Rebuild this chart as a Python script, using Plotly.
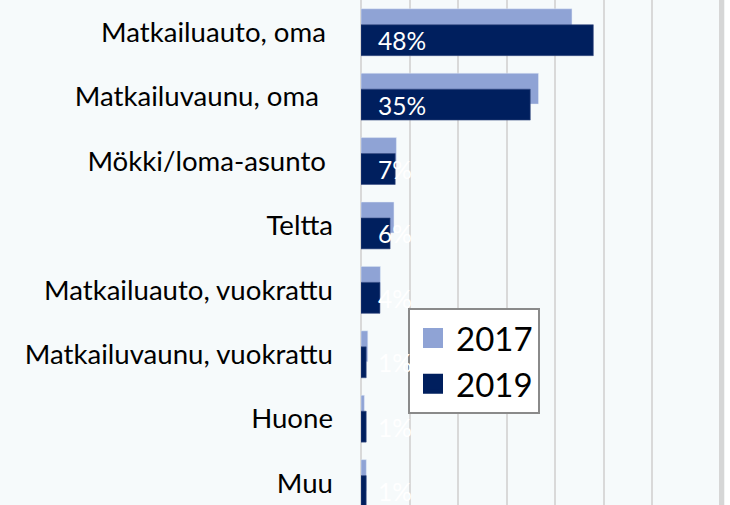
import plotly.graph_objects as go

categories = ["Matkailuauto, oma\u00a0", "Matkailuvaunu, oma\u00a0\u00a0", "Mökki/loma-asunto\u00a0", "Teltta",
              "Matkailuauto, vuokrattu", "Matkailuvaunu, vuokrattu", "Huone", "Muu"]
values_2017 = [43.5, 36.6, 7.3, 6.8, 4.0, 1.4, 0.7, 1.1]
values_2019 = [47.9, 34.9, 7.05, 6.0, 3.9, 1.07, 1.07, 1.07]
labels_2019 = ["48%", "35%", "7%", "6%", "4%", "1%", "1%", "1%"]

C17 = "#8FA3D5"
C19 = "#001F5E"
BG = "#F6FAFB"
FONT = "Lato"

W, H = 730, 505
ML, MR = 361, 11
PW = W - ML - MR

fig = go.Figure()
fig.add_trace(go.Bar(y=categories, x=values_2017, orientation="h", marker_color=C17,
                     width=0.48, offset=-0.364, showlegend=False, hoverinfo="skip"))
fig.add_trace(go.Bar(y=categories, x=values_2019, orientation="h", marker_color=C19,
                     marker_line=dict(color="#3b4f85", width=0.6),
                     width=0.48, offset=-0.116, showlegend=False, hoverinfo="skip"))
# legend entries
fig.add_trace(go.Scatter(x=[None], y=[None], mode="markers", name="2017",
                         marker=dict(symbol="square", size=16, color=C17, line=dict(color=C17, width=4))))
fig.add_trace(go.Scatter(x=[None], y=[None], mode="markers", name="2019",
                         marker=dict(symbol="square", size=16, color=C19, line=dict(color=C19, width=4))))

for cat, lab in zip(categories, labels_2019):
    fig.add_annotation(x=0, y=cat, xref="x", yref="y", text=lab, showarrow=False,
                       xanchor="left", yanchor="middle", xshift=15, yshift=-8.5,
                       font=dict(family=FONT, size=24.5, color="white"))

shapes = [
    dict(type="rect", xref="paper", yref="paper", x0=1, x1=1 + 5.5 / PW, y0=0, y1=1,
         fillcolor="#D6D6D6", line_width=0, layer="above"),
    dict(type="rect", xref="paper", yref="paper", x0=1 + 5.5 / PW, x1=1 + 12 / PW, y0=0, y1=1,
         fillcolor="white", line_width=0, layer="above"),
]

fig.update_layout(
    width=W, height=H,
    margin=dict(l=ML, r=MR, t=0, b=0, pad=0),
    paper_bgcolor=BG, plot_bgcolor=BG,
    barmode="overlay",
    shapes=shapes,
    font=dict(family=FONT, color="black"),
    legend=dict(x=(408 - ML) / PW, y=1 - 308 / H, xanchor="left", yanchor="top",
                bgcolor="white", bordercolor="#8A8A8A", borderwidth=2,
                font=dict(family=FONT, size=33, color="black"),
                tracegroupgap=0, itemwidth=36),
    xaxis=dict(range=[0, PW / 4.85], tickvals=[0, 10, 20, 30, 40, 50, 60], showticklabels=False,
               showgrid=True, gridcolor="#D9D9D9", gridwidth=1.5,
               zeroline=True, zerolinecolor="#D9D9D9", zerolinewidth=1.5, fixedrange=True),
    yaxis=dict(range=[7.34, -0.5], showgrid=False, zeroline=False, ticks="",
               tickfont=dict(family=FONT, size=27.6, color="black"), ticklabelstandoff=27,
               fixedrange=True),
)

fig.write_html("out.html", config={"displayModeBar": False},
               post_script="document.body.style.margin='0';document.body.style.overflow='hidden';")
